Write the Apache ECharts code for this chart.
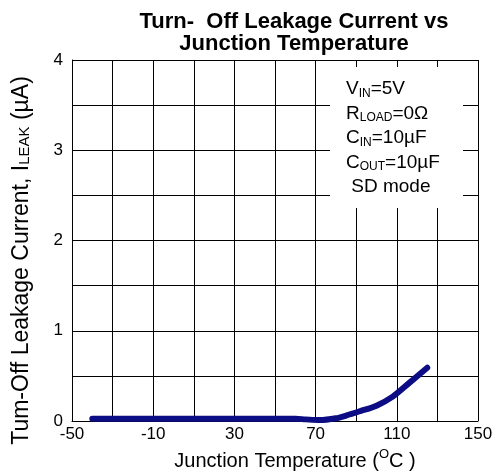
<!DOCTYPE html>
<html>
<head>
<meta charset="utf-8">
<script src="https://cdn.jsdelivr.net/npm/echarts@6/dist/echarts.min.js"></script>
<style>
  html, body { margin: 0; padding: 0; background: #fff; }
  #chart { width: 500px; height: 473px; }
</style>
</head>
<body>
<div id="chart"></div>
<script>
// junction temperature (°C) vs leakage current (µA)
const temps = [-40, 0, 40, 60, 65, 72, 80, 85, 92, 100, 108, 116, 125];
const leak = [0.025, 0.025, 0.025, 0.025, 0.018, 0.01, 0.03, 0.06, 0.11, 0.17, 0.27, 0.42, 0.59];
const X_OFFSET = 50; // axis runs -50..150, shifted so ticks start at 0
const xLabels = ['-50', '-10', '30', '70', '110', '150'];
const yLabels = ['0', '1', '2', '3', '4'];

const FONT = '"Liberation Sans", Arial, sans-serif';

const chart = echarts.init(document.getElementById('chart'), null, { renderer: 'canvas' });

const option = {
  animation: false,
  title: {
    text: 'Turn-  Off Leakage Current vs\nJunction Temperature',
    left: 289,
    top: 6,
    textAlign: 'center',
    textStyle: { fontFamily: FONT, fontSize: 22, fontWeight: 'bold', color: '#000', lineHeight: 22 }
  },
  grid: { left: 72, right: 22, top: 60, bottom: 52, containLabel: false, outerBoundsMode: 'none' },
  xAxis: {
    type: 'value',
    min: 0,
    max: 200,
    interval: 20,
    name: '{n|Junction Temperature (}{s|O}{n|C )}',
    nameLocation: 'middle',
    nameGap: 24,
    nameTextStyle: {
      padding: [0, 0, 0, 40],
      rich: {
        n: { fontFamily: FONT, fontSize: 20, color: '#000', verticalAlign: 'bottom', lineHeight: 24 },
        s: { fontFamily: FONT, fontSize: 13, color: '#000', verticalAlign: 'top', lineHeight: 24, padding: [0, 0, 10, 0] }
      }
    },
    axisLine: { show: true, lineStyle: { color: '#000', width: 1 } },
    axisTick: { show: false },
    splitLine: { show: true, lineStyle: { color: '#000', width: 1 } },
    axisLabel: {
      fontFamily: FONT, fontSize: 17, color: '#000', margin: 5,
      showMinLabel: true, showMaxLabel: true,
      formatter: v => (v % 40 === 0 ? xLabels[v / 40] : '')
    }
  },
  yAxis: {
    type: 'value',
    min: 0,
    max: 4,
    interval: 0.5,
    name: '{n|Tum-Off Leakage Current, I}{s|LEAK}{n| (µA)}',
    nameLocation: 'middle',
    nameGap: 39,
    nameTextStyle: {
      padding: [0, 40, 0, 0],
      rich: {
        n: { fontFamily: FONT, fontSize: 23, color: '#000' },
        s: { fontFamily: FONT, fontSize: 15, color: '#000', padding: [7, 0, 0, 0] }
      }
    },
    axisLine: { show: true, lineStyle: { color: '#000', width: 1 } },
    axisTick: { show: false },
    splitLine: { show: true, lineStyle: { color: '#000', width: 1 } },
    axisLabel: {
      fontFamily: FONT, fontSize: 17, color: '#000', margin: 9,
      formatter: v => (Number.isInteger(v) ? yLabels[v] : '')
    }
  },
  graphic: [
    {
      type: 'rect',
      shape: { x: 330, y: 67, width: 133, height: 141 },
      style: { fill: '#fff' },
      z: 10
    },
    {
      type: 'text',
      x: 346,
      y: 77,
      z: 11,
      style: {
        text: '{n|V}{s|IN}{n|=5V}\n{n|R}{s|LOAD}{n|=0Ω}\n{n|C}{s|IN}{n|=10µF}\n{n|C}{s|OUT}{n|=10µF}\n{n| SD mode}',
        rich: {
          n: { fontFamily: FONT, fontSize: 19, fill: '#000', lineHeight: 24.5 },
          s: { fontFamily: FONT, fontSize: 12, fill: '#000', lineHeight: 24.5, padding: [8, 0, 0, 0] }
        }
      }
    }
  ],
  series: [
    {
      type: 'line',
      data: temps.map((t, i) => [t + X_OFFSET, leak[i]]),
      smooth: 0.3,
      showSymbol: false,
      lineStyle: { color: '#0c0c84', width: 6, cap: 'round', join: 'round' },
      z: 5
    }
  ]
};

chart.setOption(option);
</script>
</body>
</html>
